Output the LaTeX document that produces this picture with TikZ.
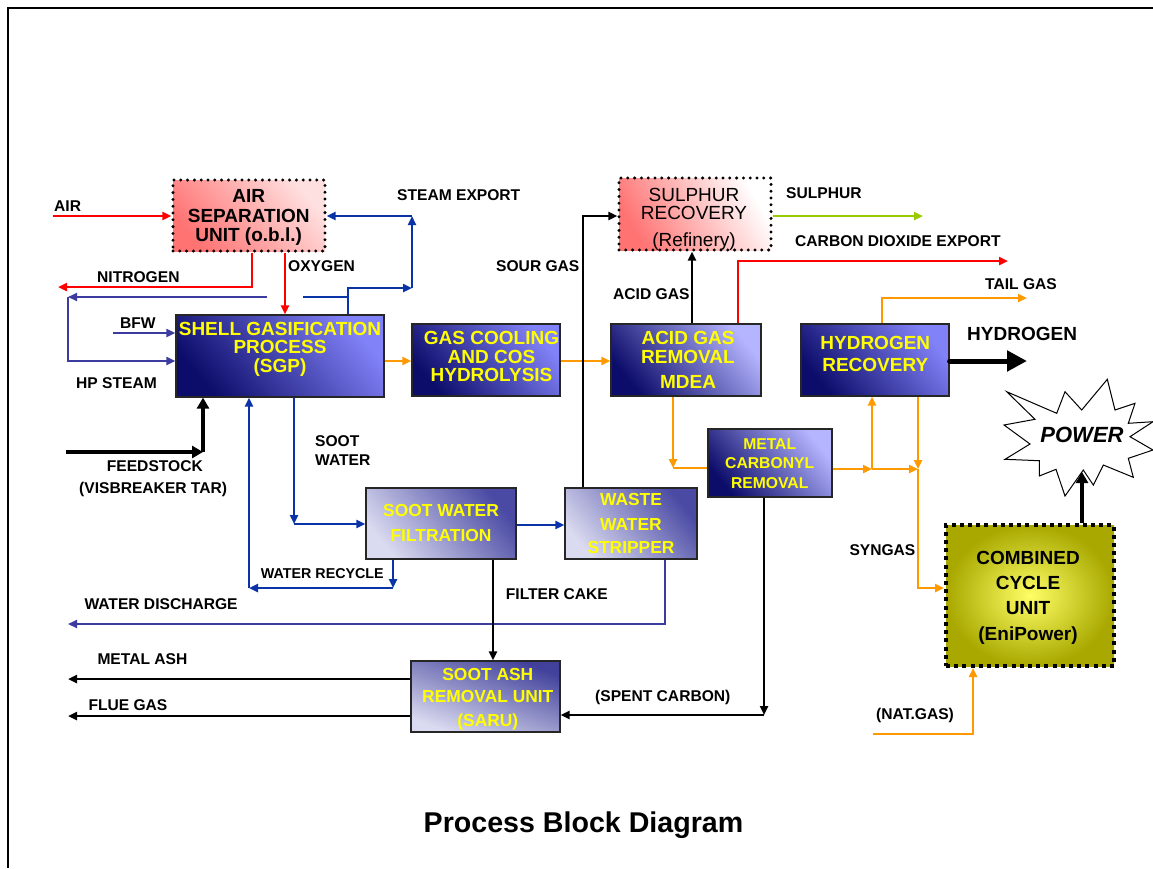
\documentclass[tikz,border=0pt]{standalone}
\usepackage{fontspec}
\setmainfont{Liberation Sans}
\usetikzlibrary{arrows.meta}

\definecolor{flowred}{HTML}{FF0000}
\definecolor{floworange}{HTML}{FF9900}
\definecolor{flowblue}{HTML}{0A33A8}
\definecolor{flowpurple}{HTML}{3C3CA0}
\definecolor{flowgreen}{HTML}{99CC00}
\definecolor{navy}{HTML}{0C0C6A}
\definecolor{periwinkle}{HTML}{8282F8}
\definecolor{lavender}{HTML}{B4B4FF}
\definecolor{mist}{HTML}{DADAF0}
\definecolor{slateblue}{HTML}{4A4AA4}
\definecolor{pinklight}{HTML}{FFE0E0}
\definecolor{pinkdark}{HTML}{FF7373}
\definecolor{olive}{HTML}{A8A800}
\definecolor{brightyellow}{HTML}{FFFF66}
\definecolor{boxtext}{HTML}{FFFF00}

\newcommand{\fsz}[1]{\fontsize{#1}{#1}\selectfont}

\begin{document}
\begin{tikzpicture}[x=1pt, y=-1pt, >={Triangle[length=9pt,width=8pt]},
  unit/.style={draw=black!85, line width=1.2pt, inner sep=0pt, rectangle},
  bluegrad/.style={top color=periwinkle, bottom color=navy, shading angle=-50},
  palegrad/.style={top color=lavender, bottom color=navy, shading angle=-50},
  mistgrad/.style={top color=slateblue, bottom color=mist, shading angle=-50},
  sarugrad/.style={top color=slateblue!85!navy, bottom color=mist, shading angle=-20},
  pinkgrad/.style={top color=pinklight, bottom color=pinkdark, shading angle=-50},
  srgrad/.style={top color=white, bottom color=pinkdark, shading angle=-60},
  dotframe/.style={draw=black, line width=3.3pt, dash pattern=on 0pt off 6.8pt, line cap=round},
  squareframe/.style={draw=black, line width=4pt, dash pattern=on 4pt off 4.2pt},
  boxtxt/.style={anchor=base, inner sep=0pt, font=\bfseries\fsz{19}, text=boxtext},
  midtxt/.style={boxtxt, font=\bfseries\fsz{17.4}},
  smalltxt/.style={boxtxt, font=\bfseries\fsz{15.7}},
  darktxt/.style={boxtxt, text=black},
  lbl/.style={anchor=base west, inner sep=0pt, font=\bfseries\fsz{15.6}},
  redflow/.style={draw=flowred, line width=2.3pt},
  orangeflow/.style={draw=floworange, line width=2.3pt},
  blueflow/.style={draw=flowblue, line width=2.5pt},
  purpleflow/.style={draw=flowpurple, line width=1.9pt},
  blackflow/.style={draw=black, line width=2.3pt},
  greenflow/.style={draw=flowgreen, line width=2.3pt},
  heavyflow/.style={draw=black, line width=4pt, -{Triangle[length=11pt,width=12pt]}},
  h2flow/.style={draw=black, line width=5pt, line cap=round, -{Triangle[length=20pt,width=20pt]}}
]
\useasboundingbox (0,0) rectangle (1153,868);

% page frame
\draw[line width=2pt] (8,868) -- (8,8) -- (1153,8);

% ---------- process units ----------
\node[unit, pinkgrad, dotframe, minimum width=152pt, minimum height=71pt] (asu) at (249,215.5) {};
\node[unit, srgrad, dotframe, minimum width=152pt, minimum height=72pt] (sr) at (695,214) {};
\node[unit, bluegrad, minimum width=208pt, minimum height=82pt] (sgp) at (280,356) {};
\node[unit, bluegrad, minimum width=148pt, minimum height=72pt] (gc) at (486,360) {};
\node[unit, palegrad, minimum width=150pt, minimum height=72pt] (agr) at (686,360) {};
\node[unit, bluegrad, minimum width=148pt, minimum height=72pt] (hr) at (875,360) {};
\node[unit, palegrad, minimum width=124pt, minimum height=68pt] (mcr) at (770,463) {};
\node[unit, mistgrad, minimum width=150pt, minimum height=71pt] (swf) at (441,523.5) {};
\node[unit, mistgrad, minimum width=132pt, minimum height=71pt] (wws) at (631,523.5) {};
\node[unit, sarugrad, minimum width=149pt, minimum height=71pt] (saru) at (485.5,696.5) {};
\node[unit, squareframe, inner color=brightyellow, outer color=olive, minimum width=168pt, minimum height=141pt] (ccu) at (1030,595.5) {};

% power burst
\draw[fill=white, line width=1pt, line join=miter]
  (1006.7,391.7) -- (1056.7,413.3) -- (1065,391.7) -- (1081.7,410) -- (1107.3,379.3)
  -- (1115,410) -- (1135,403.3) -- (1128.3,423.3) -- (1153,421.7) -- (1130,436.7)
  -- (1153,450) -- (1128.3,458.3) -- (1133.3,477.3) -- (1103.3,465) -- (1093.3,485)
  -- (1083.3,470) -- (1065,496) -- (1056,469.3) -- (1039.3,476) -- (1039.3,460.7)
  -- (1005,459.3) -- (1030,444) -- (1004,425) -- (1035,419.3) -- cycle;
\node[anchor=base, inner sep=0pt, font=\bfseries\itshape\fsz{22}] (power) at (1082,442.9) {POWER};

% ---------- connection points ----------
\coordinate (airIn) at (53,216);
\coordinate (n2bend) at (252,287);
\coordinate (n2end) at (58,287);
\coordinate (o2x) at (285,260);
\coordinate (stA) at (348,288);
\coordinate (stB) at (412,288);
\coordinate (stC) at (412,216);
\coordinate (stub) at (303,297);
\coordinate (hpA) at (267,297);
\coordinate (hpB) at (68,297);
\coordinate (hpC) at (68,361);
\coordinate (bfw) at (113,333);
\coordinate (sg1) at (0,361);
\coordinate (sour) at (583,216);
\coordinate (acid) at (692,300);
\coordinate (co2a) at (738,261);
\coordinate (co2b) at (1008,261);
\coordinate (sulph) at (923,216);
\coordinate (mcA) at (673,468);
\coordinate (hrA) at (872,469);
\coordinate (hrB) at (918,469);
\coordinate (ccA) at (918,588);
\coordinate (tgA) at (882,298);
\coordinate (tgB) at (1027,298);
\coordinate (h2) at (1027,361);
\coordinate (pwr) at (1082,472);
\coordinate (ngA) at (873,734);
\coordinate (ngB) at (973,734);
\coordinate (fsA) at (66,452);
\coordinate (fsB) at (203,452);
\coordinate (swA) at (294,524);
\coordinate (wrA) at (393,588);
\coordinate (wrB) at (249,588);
\coordinate (sw2) at (0,525);
\coordinate (wdA) at (665,624);
\coordinate (wdB) at (68,624);
\coordinate (fc) at (493,600);
\coordinate (scA) at (764,715);
\coordinate (ma) at (68,679);
\coordinate (fg) at (68,716);

% ---------- streams ----------
\draw[redflow,->] (airIn) -- (asu.west |- airIn);
\draw[redflow,->] (asu.south -| n2bend) -- (n2bend) -- (n2end);
\draw[redflow,->] (asu.south -| o2x) -- (sgp.north -| o2x);

\draw[blueflow,->] (sgp.north -| stA) -- (stA) -- (stB);
\draw[blueflow,->] (stB) -- (stC);
\draw[blueflow,->] (stC) -- (asu.east |- stC);
\draw[blueflow] (stub) -- (stub -| stA);

\draw[purpleflow,->] (hpA) -- (hpB);
\draw[purpleflow,->] (hpB) -- (hpC) -- (sgp.west |- hpC);
\draw[purpleflow,->] (bfw) -- (sgp.west |- bfw);

\draw[orangeflow,->] (sgp.east |- sg1) -- (gc.west |- sg1);
\draw[orangeflow,->] (gc.east |- sg1) -- (agr.west |- sg1);

\draw[blackflow,->] (wws.north -| sour) -- (sour) -- (sr.west |- sour);
\draw[blackflow,->] (agr.north -| acid) -- (sr.south -| acid);
\draw[redflow,->] (agr.north -| co2a) -- (co2a) -- (co2b);
\draw[greenflow,->] (sr.east |- sulph) -- (sulph);

\draw[orangeflow,->] (agr.south -| mcA) -- (mcA);
\draw[orangeflow] (mcA) -- (mcr.west |- mcA);
\draw[orangeflow,->] (mcr.east |- hrA) -- (hrA);
\draw[orangeflow,->] (hrA) -- (hrB);
\draw[orangeflow,->] (hrA) -- (hr.south -| hrA);
\draw[orangeflow,->] (hr.south -| hrB) -- (hrB);
\draw[orangeflow,->] (hrB) -- (ccA) -- (ccu.west |- ccA);
\draw[orangeflow,->] (hr.north -| tgA) -- (tgA) -- (tgB);
\draw[h2flow] (hr.east |- h2) -- (h2);
\draw[heavyflow] (ccu.north -| pwr) -- (pwr);
\draw[orangeflow,->] (ngA) -- (ngB) -- (ccu.south -| ngB);

\draw[heavyflow] (fsA) -- (fsB);
\draw[heavyflow] (fsB) -- (sgp.south -| fsB);

\draw[blueflow,->] (sgp.south -| swA) -- (swA);
\draw[blueflow,->] (swA) -- (swf.west |- swA);
\draw[blueflow,->] (swf.south -| wrA) -- (wrA);
\draw[blueflow,->] (wrA) -- (wrB);
\draw[blueflow,->] (wrB) -- (sgp.south -| wrB);
\draw[blueflow,->] (swf.east |- sw2) -- (wws.west |- sw2);
\draw[purpleflow,->] (wws.south -| wdA) -- (wdA) -- (wdB);
\draw[blackflow,->] (swf.south -| fc) -- (saru.north -| fc);
\draw[blackflow,->] (mcr.south -| scA) -- (scA);
\draw[blackflow,->] (scA) -- (saru.east |- scA);
\draw[blackflow,->] (saru.west |- ma) -- (ma);
\draw[blackflow,->] (saru.west |- fg) -- (fg);

% ---------- unit captions ----------
\node[darktxt] (asu1) at (248.7,202.8) {AIR};
\node[darktxt] (asu2) at (248.7,222.8) {SEPARATION};
\node[darktxt] (asu3) at (248.7,241.8) {UNIT (o.b.l.)};

\node[darktxt, font=\fsz{19}] (sr1) at (694,201.8) {SULPHUR};
\node[darktxt, font=\fsz{19}] (sr2) at (694,219.8) {RECOVERY};
\node[darktxt, font=\fsz{19}] (sr3) at (694,246.8) {(Refinery)};

\node[boxtxt] (sgp1) at (280,335.8) {SHELL GASIFICATION};
\node[boxtxt] (sgp2) at (280,353.8) {PROCESS};
\node[boxtxt] (sgp3) at (280,372.8) {(SGP)};

\node[boxtxt] (gc1) at (491.5,344.8) {GAS COOLING};
\node[boxtxt] (gc2) at (491.5,363.8) {AND COS};
\node[boxtxt] (gc3) at (491.5,381.8) {HYDROLYSIS};

\node[boxtxt] (agr1) at (688,344.8) {ACID GAS};
\node[boxtxt] (agr2) at (688,363.8) {REMOVAL};
\node[boxtxt] (agr3) at (688,388.8) {MDEA};

\node[boxtxt] (hr1) at (875.3,349.8) {HYDROGEN};
\node[boxtxt] (hr2) at (875.3,371.8) {RECOVERY};

\node[smalltxt] (mcr1) at (769.7,449.6) {METAL};
\node[smalltxt] (mcr2) at (769.7,468.9) {CARBONYL};
\node[smalltxt] (mcr3) at (769.7,488.9) {REMOVAL};

\node[midtxt] (swf1) at (441,516.2) {SOOT WATER};
\node[midtxt] (swf2) at (441,541.2) {FILTRATION};

\node[midtxt] (wws1) at (631,505.2) {WASTE};
\node[midtxt] (wws2) at (631,530.2) {WATER};
\node[midtxt] (wws3) at (631,553.9) {STRIPPER};

\node[midtxt] (saru1) at (487.8,680.2) {SOOT ASH};
\node[midtxt] (saru2) at (487.8,702.9) {REMOVAL UNIT};
\node[midtxt] (saru3) at (487.8,726.2) {(SARU)};

\node[darktxt] (ccu1) at (1028,564.1) {COMBINED};
\node[darktxt] (ccu2) at (1028,589.1) {CYCLE};
\node[darktxt] (ccu3) at (1028,614.1) {UNIT};
\node[darktxt] (ccu4) at (1028,640.1) {(EniPower)};

% ---------- stream labels ----------
\node[lbl] (lair) at (54,211.3) {AIR};
\node[lbl] (lsteam) at (397,200.4) {STEAM EXPORT};
\node[lbl] (ln2) at (97,282.3) {NITROGEN};
\node[lbl] (lo2) at (288,271.4) {OXYGEN};
\node[lbl] (lbfw) at (120,328.1) {BFW};
\node[lbl] (lhp) at (76,388.8) {HP STEAM};
\node[lbl] (lsour) at (496,271.4) {SOUR GAS};
\node[lbl] (lacid) at (613,299.4) {ACID GAS};
\node[lbl] (lsulph) at (786,198.4) {SULPHUR};
\node[lbl] (lco2) at (795,246.4) {CARBON DIOXIDE EXPORT};
\node[lbl] (ltail) at (985,289.4) {TAIL GAS};
\node[lbl, font=\bfseries\fsz{19}] (lh2) at (967,340.1) {HYDROGEN};
\node[lbl] (lfeed1) at (106.7,471.8) {FEEDSTOCK};
\node[lbl] (lfeed2) at (79,493.3) {(VISBREAKER TAR)};
\node[lbl] (lsoot1) at (315,446.1) {SOOT};
\node[lbl] (lsoot2) at (315,465.3) {WATER};
\node[lbl, font=\bfseries\fsz{14.3}] (lrec) at (260.7,578.9) {WATER RECYCLE};
\node[lbl] (ldis) at (84.3,609.8) {WATER DISCHARGE};
\node[lbl] (lcake) at (505.7,599.8) {FILTER CAKE};
\node[lbl] (lspent) at (595,701.4) {(SPENT CARBON)};
\node[lbl] (lash) at (97.3,664.4) {METAL ASH};
\node[lbl] (lflue) at (88.3,710.4) {FLUE GAS};
\node[lbl] (lsyn) at (849.3,555.4) {SYNGAS};
\node[lbl] (lnat) at (876,719.8) {(NAT.GAS)};

% ---------- title ----------
\node[anchor=base, inner sep=0pt, font=\bfseries\fsz{28.6}] (title) at (583.5,832) {Process Block Diagram};
\end{tikzpicture}
\end{document}
